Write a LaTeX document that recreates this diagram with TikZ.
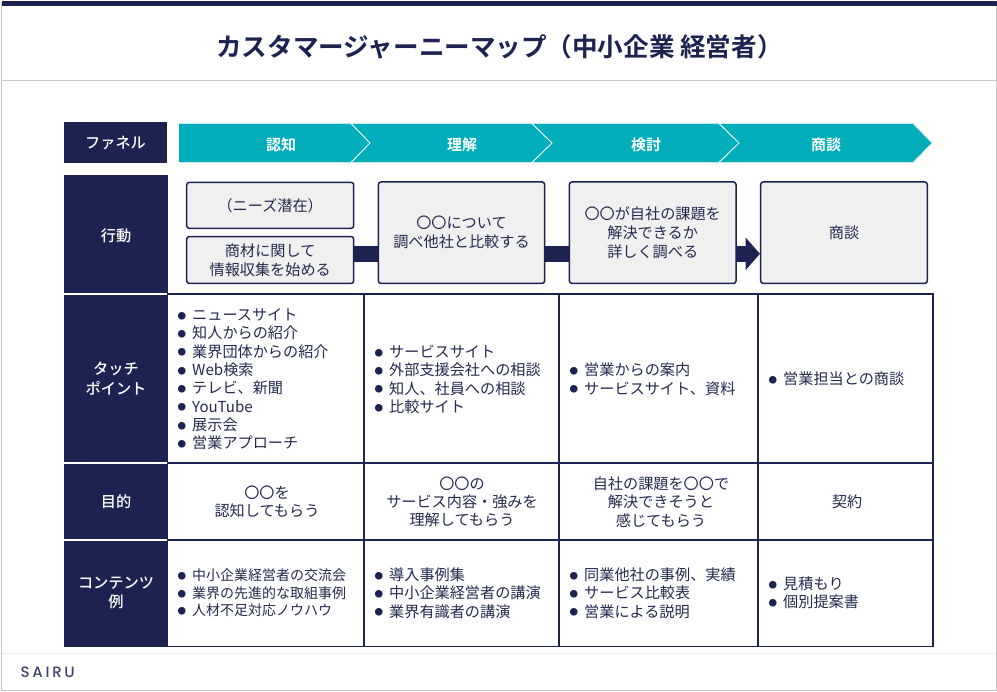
\documentclass[tikz,border=0pt]{standalone}
\usepackage{fontspec}
\setmainfont[BoldFont={Noto Sans CJK JP Bold}]{Noto Sans CJK JP}
\newfontfamily\medfont{Noto Sans CJK JP Medium}
\newfontfamily\logofont[LetterSpace=18]{Poppins Medium}
\usetikzlibrary{arrows.meta}
\definecolor{navy}{HTML}{1C2350}
\definecolor{teal2}{HTML}{00AEBB}
\definecolor{paleedge}{HTML}{C4ECEF}
\definecolor{boxgray}{HTML}{F0F0F0}
\definecolor{framegray}{HTML}{C8C8C8}
\definecolor{footgray}{HTML}{EEEEEE}
\definecolor{bodytext}{HTML}{232A4E}
\newcommand{\blt}{\makebox[14.5pt][l]{\raisebox{1.2pt}{\fontsize{8.5}{8.5}\selectfont\textcolor{navy}{●}}}}
\tikzset{
  x=1pt,y=-1pt,
  base/.style={font=\fontsize{15.15}{18.3}\selectfont,inner sep=0pt,text=bodytext,align=center},
  headtext/.style={inner sep=0pt,font=\fontsize{15.2}{19.5}\medfont\selectfont,text=white,align=center},
  actbox/.style={base,font=\fontsize{15.15}{18.7}\selectfont,draw=navy,fill=boxgray,line width=1.5pt,rounded corners=2.5pt,anchor=north west,outer sep=0pt},
  chevtext/.style={base,text=white,font=\fontsize{15}{18.3}\selectfont\bfseries},
  lst/.style={base,align=left,anchor=west},
  smalllst/.style={lst,font=\fontsize{14}{17.6}\selectfont},
  grid/.style={draw=navy,line width=1.5pt},
  flow/.style={draw=navy,line width=15.5pt}
}
\begin{document}
\begin{tikzpicture}
\useasboundingbox (0,0) rectangle (997,692);
\fill[white] (0,0) rectangle (997,692);
% frame
\draw[framegray,line width=1pt] (1.5,2) -- (1.5,690) -- (996,690) -- (996,2);
\fill[navy] (1.5,1.5) rectangle (997,6.5);
\draw[framegray,line width=1pt] (1.5,81) -- (996,81);
\draw[footgray,line width=1pt] (2,653) -- (996,653);
\node[base,text=navy,font=\fontsize{25.55}{30}\selectfont\bfseries] (title) at (499.5,46.5) {カスタマージャーニーマップ（中小企業 経営者）};
\node[anchor=west,inner sep=0pt,text=navy!85!white,font=\fontsize{15}{16}\logofont\selectfont] (logo) at (20.5,672.5) {SAIRU};
% left header cells
\fill[navy] (64,122.5) rectangle (167,163.5);
\fill[navy] (64,175) rectangle (168,293.3);
\fill[navy] (64,295) rectangle (168,462.3);
\fill[navy] (64,464) rectangle (168,539.3);
\fill[navy] (64,541) rectangle (168,647);
\node[headtext] (hfunnel) at (115.5,143.5) {ファネル};
\node[headtext] (hact) at (116,235.5) {行動};
\node[headtext] (htouch) at (116,378.5) {タッチ\\ポイント};
\node[headtext] (hgoal) at (116,502) {目的};
\node[headtext] (hcont) at (116,593) {コンテンツ\\例};
% chevrons
\fill[teal2] (179,123.5) -- (351,123.5) -- (370,143) -- (351,162.5) -- (179,162.5) -- cycle;
\fill[teal2] (351,123.5) -- (532,123.5) -- (552,143) -- (532,162.5) -- (351,162.5) -- (370,143) -- cycle;
\fill[teal2] (532,123.5) -- (719,123.5) -- (739,143) -- (719,162.5) -- (532,162.5) -- (552,143) -- cycle;
\fill[teal2] (719,123.5) -- (913,123.5) -- (932,143) -- (913,162.5) -- (719,162.5) -- (739,143) -- cycle;
\draw[paleedge,line width=0.7pt] (179,123.5) -- (913,123.5) -- (932,143) -- (913,162.5) -- (179,162.5);
\draw[white,line width=0.9pt] (351,123.5) -- (370,143) -- (351,162.5);
\draw[white,line width=0.9pt] (532,123.5) -- (552,143) -- (532,162.5);
\draw[white,line width=0.9pt] (719,123.5) -- (739,143) -- (719,162.5);
\node[chevtext] (c1) at (281,144.5) {認知};
\node[chevtext] (c2) at (462,144.5) {理解};
\node[chevtext] (c3) at (646,144.5) {検討};
\node[chevtext] (c4) at (826,144.5) {商談};
% action boxes
\node[actbox,minimum width=167pt,minimum height=45.9pt] (a0) at (186.7,182.4) {（ニーズ潜在）};
\node[actbox,minimum width=167pt,minimum height=46.8pt] (a1) at (186.7,236.6) {商材に関して\\情報収集を始める};
\node[actbox,minimum width=166.2pt,minimum height=101.4pt] (a2) at (378.4,182) {〇〇について\\調べ他社と比較する};
\node[actbox,minimum width=166.6pt,minimum height=101.4pt] (a3) at (569.4,182) {〇〇が自社の課題を\\解決できるか\\詳しく調べる};
\node[actbox,minimum width=166.6pt,minimum height=101.4pt] (a4) at (760.7,182) {\raisebox{-0.8pt}{商談}};
\coordinate (lane) at (0,253.8);
\draw[flow] (a1.east |- lane) -- (a2.west |- lane);
\draw[flow] (a2.east |- lane) -- (a3.west |- lane);
\draw[flow,-{Triangle[length=14.5pt,width=32pt]}] (a3.east |- lane) -- ([xshift=-0.7pt]a4.west |- lane);
% grid
\draw[grid] (167,294) -- (933.5,294);
\draw[grid] (167,463) -- (933.5,463);
\draw[grid] (167,540) -- (933.5,540);
\draw[grid] (64,646.5) -- (933.5,646.5);
\draw[grid] (364,294) -- (364,646.5);
\draw[grid] (559,294) -- (559,646.5);
\draw[grid] (758,294) -- (758,646.5);
\draw[grid] (933,294) -- (933,646.5);
% touch points
\node[lst] (t1) at (177.5,379.3) {\blt ニュースサイト\\\blt 知人からの紹介\\\blt 業界団体からの紹介\\\blt Web検索\\\blt テレビ、新聞\\\blt YouTube\\\blt 展示会\\\blt 営業アプローチ};
\node[lst] (t2) at (374.5,379.3) {\blt サービスサイト\\\blt 外部支援会社への相談\\\blt 知人、社員への相談\\\blt 比較サイト};
\node[lst] (t3) at (569.5,379.3) {\blt 営業からの案内\\\blt サービスサイト、資料};
\node[lst] (t4) at (768.5,379) {\blt 営業担当との商談};
% goals
\node[base] (g1) at (267,502) {〇〇を\\認知してもらう};
\node[base] (g2) at (462,502) {〇〇の\\サービス内容・強みを\\理解してもらう};
\node[base] (g3) at (661,502) {自社の課題を〇〇で\\解決できそうと\\感じてもらう};
\node[base] (g4) at (847,502) {契約};
% contents
\node[smalllst] (k1) at (177.5,593) {\blt 中小企業経営者の交流会\\\blt 業界の先進的な取組事例\\\blt 人材不足対応ノウハウ};
\node[lst] (k2) at (374.5,593) {\blt 導入事例集\\\blt 中小企業経営者の講演\\\blt 業界有識者の講演};
\node[lst] (k3) at (569.5,593) {\blt 同業他社の事例、実績\\\blt サービス比較表\\\blt 営業による説明};
\node[lst] (k4) at (768.5,593) {\blt 見積もり\\\blt 個別提案書};
\end{tikzpicture}
\end{document}
